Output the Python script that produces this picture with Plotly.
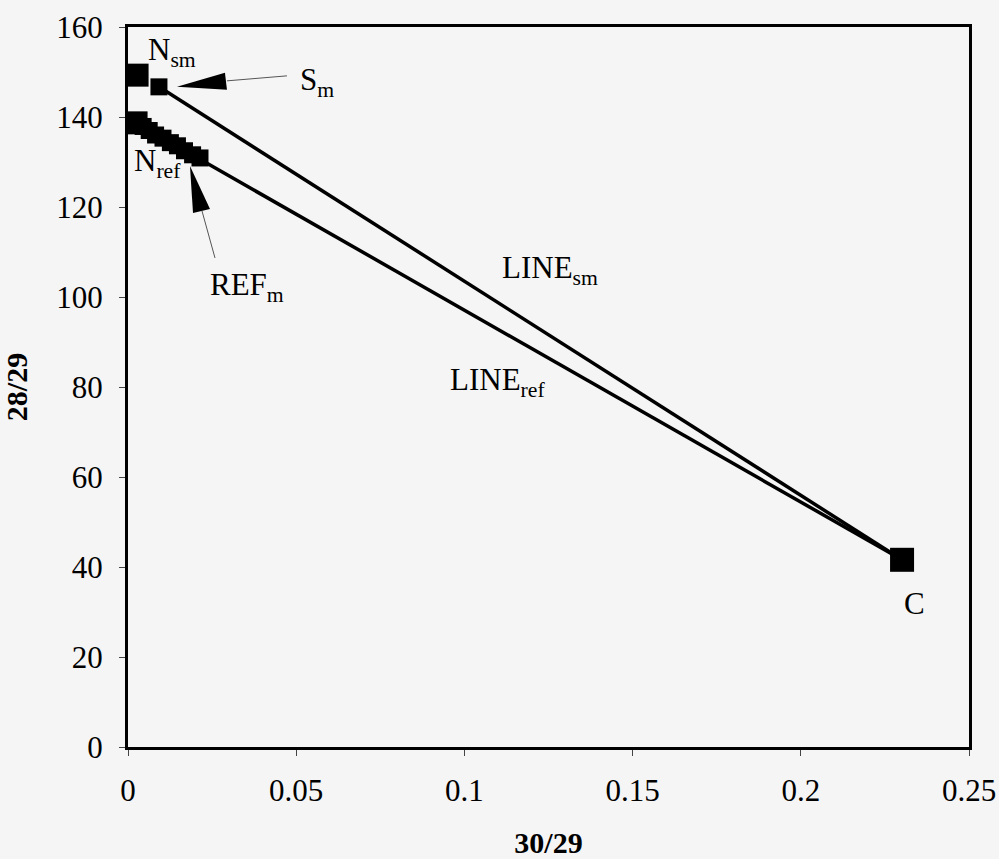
import plotly.graph_objects as go

# ---- data ----
nsm_x, nsm_y = [0.0027], [149.3]
sm_x, sm_y = [0.0092], [146.7]
nref_x, nref_y = [0.0024], [138.7]
refm_x = [0.0045, 0.0063, 0.0082, 0.0104, 0.0126, 0.0147, 0.0168, 0.0192, 0.0214]
refm_y = [137.9, 137.0, 136.0, 135.3, 134.3, 133.6, 132.5, 131.6, 130.9]
c_x, c_y = [0.2301], [41.6]

x_ticks = [0, 0.05, 0.1, 0.15, 0.2, 0.25]
x_ticklabels = ["0", "0.05", "0.1", "0.15", "0.2", "0.25"]
y_ticks = [0, 20, 40, 60, 80, 100, 120, 140, 160]

FONT = "Liberation Serif"
BG = "#f5f5f5"

fig = go.Figure()

# lines
fig.add_trace(go.Scatter(x=sm_x + c_x, y=sm_y + c_y, mode="lines",
                         line=dict(color="black", width=3.5), showlegend=False))
fig.add_trace(go.Scatter(x=nref_x + c_x, y=nref_y + c_y, mode="lines",
                         line=dict(color="black", width=3.5), showlegend=False))

# markers
mk = lambda s: dict(symbol="square", size=s, color="black", line=dict(width=0))
fig.add_trace(go.Scatter(x=refm_x, y=refm_y, mode="markers", marker=mk(17), showlegend=False))
fig.add_trace(go.Scatter(x=nsm_x, y=nsm_y, mode="markers", marker=mk(23), showlegend=False))
fig.add_trace(go.Scatter(x=nref_x, y=nref_y, mode="markers", marker=mk(23), showlegend=False))
fig.add_trace(go.Scatter(x=sm_x, y=sm_y, mode="markers", marker=mk(17), showlegend=False))
fig.add_trace(go.Scatter(x=c_x, y=c_y, mode="markers", marker=mk(24), showlegend=False))

# wedge arrows (pixel-sized shapes anchored to data points)
shapes = [
    dict(type="path", xref="x", yref="y", xsizemode="pixel", ysizemode="pixel",
         xanchor=sm_x[0], yanchor=sm_y[0],
         path="M 18 0 L 66 14 L 68 -3 Z", fillcolor="black", line=dict(width=0)),
    dict(type="line", xref="x", yref="y", xsizemode="pixel", ysizemode="pixel",
         xanchor=sm_x[0], yanchor=sm_y[0], x0=68, y0=6, x1=128, y1=11,
         line=dict(color="#555555", width=1)),
    dict(type="path", xref="x", yref="y", xsizemode="pixel", ysizemode="pixel",
         xanchor=refm_x[-1], yanchor=refm_y[-1],
         path="M -10 -8 L -7 -55 L 10 -51 Z", fillcolor="black", line=dict(width=0)),
    dict(type="line", xref="x", yref="y", xsizemode="pixel", ysizemode="pixel",
         xanchor=refm_x[-1], yanchor=refm_y[-1], x0=2, y0=-53, x1=15, y1=-100,
         line=dict(color="#555555", width=1)),
]

ann_font = dict(family=FONT, size=31, color="black")
annotations = [
    dict(x=0.0054, y=154.4, text="N<sub>sm</sub>", xanchor="left", yanchor="middle"),
    dict(x=0.0505, y=147.8, text="S<sub>m</sub>", xanchor="left", yanchor="middle"),
    dict(x=0.0012, y=129.8, text="N<sub>ref</sub>", xanchor="left", yanchor="middle"),
    dict(x=0.0354, y=102.2, text="REF<sub>m</sub>", xanchor="center", yanchor="middle"),
    dict(x=0.1106, y=106.0, text="LINE<sub>sm</sub>", xanchor="left", yanchor="middle"),
    dict(x=0.0951, y=81.1, text="LINE<sub>ref</sub>", xanchor="left", yanchor="middle"),
    dict(x=0.2337, y=32.0, text="C", xanchor="center", yanchor="middle"),
]
for a in annotations:
    a.update(xref="x", yref="y", showarrow=False, font=ann_font)

axis_common = dict(showline=True, linecolor="black", linewidth=3, mirror=True,
                   showgrid=False, zeroline=False, ticks="outside", ticklen=6,
                   tickwidth=1, tickcolor="#444444", automargin=False,
                   tickfont=dict(family=FONT, size=31, color="black"))

fig.update_layout(
    width=999, height=859,
    margin=dict(l=128, r=30, t=27, b=112),
    paper_bgcolor=BG, plot_bgcolor=BG,
    shapes=shapes, annotations=annotations,
    xaxis=dict(range=[0, 0.25], tickvals=x_ticks, ticktext=x_ticklabels,
               ticklabelstandoff=8,
               title=dict(text="<b>30/29</b>", standoff=38,
                          font=dict(family=FONT, size=30, color="black")),
               **axis_common),
    yaxis=dict(range=[0, 160], tickvals=y_ticks, ticklabelstandoff=10,
               title=dict(text="<b>28/29</b>", standoff=30,
                          font=dict(family=FONT, size=30, color="black")),
               **axis_common),
)

fig.write_html("out.html")
